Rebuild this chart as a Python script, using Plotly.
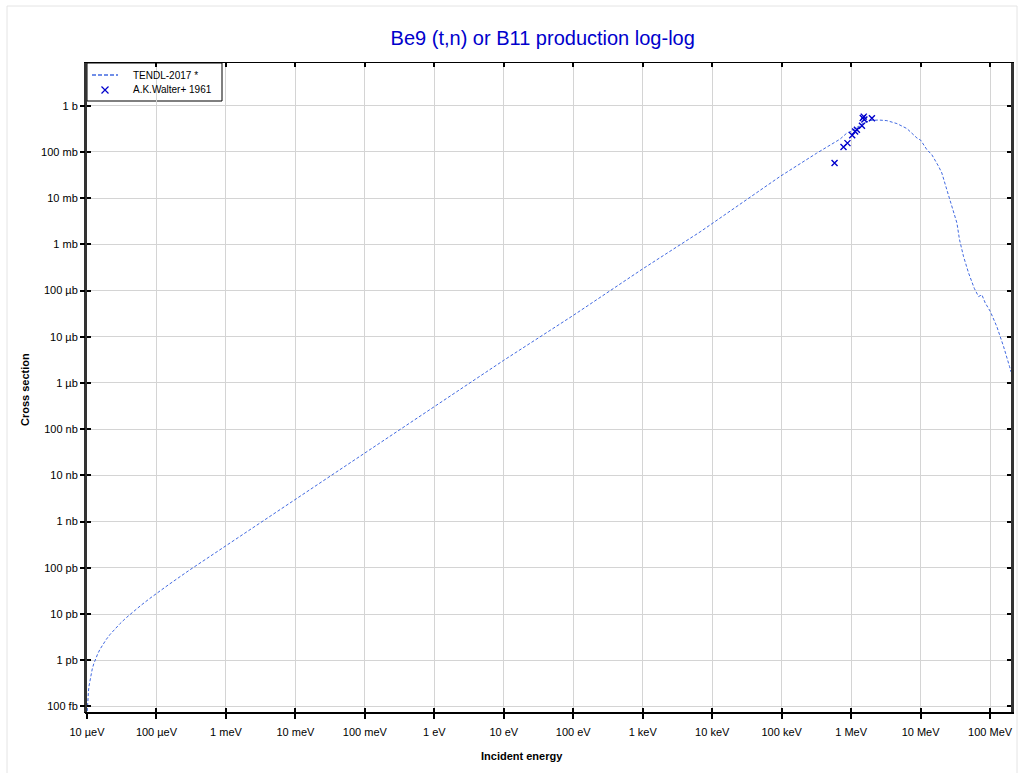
import plotly.graph_objects as go

# TENDL-2017 evaluated curve (incident energy in eV, cross section in barns)
tendl_energy = [1.00e-5, 1.01e-5, 1.02e-5, 1.03e-5, 1.05e-5, 1.07e-5, 1.10e-5, 1.14e-5, 1.19e-5,
                1.25e-5, 1.33e-5, 1.43e-5, 1.55e-5, 1.70e-5, 1.90e-5, 2.15e-5, 2.5e-5, 3.0e-5,
                3.7e-5, 4.6e-5, 6.0e-5, 8.0e-5, 1.0e-4, 1.5e-4, 3.0e-4, 1.0e-3, 1.0e-2, 1.0,
                10.0, 100.0, 1.0e3, 6.7e3, 9.5e4, 3.16e5, 6.95e5, 8.7e5, 1.0e6, 1.5e6, 1.88e6,
                2.5e6, 3.27e6, 4.56e6, 6.35e6, 8.85e6, 1.0e7, 1.23e7, 1.45e7, 1.81e7, 2.02e7,
                2.39e7, 2.82e7, 3.33e7, 3.63e7, 4.14e7, 4.9e7, 5.92e7, 6.82e7, 7.62e7, 8.51e7,
                1.005e8, 1.25e8, 1.56e8, 1.9e8, 2.0e8]
tendl_xs = [6.2e-14, 9.3e-14, 1.24e-13, 1.55e-13, 2.16e-13, 2.78e-13, 3.71e-13, 4.94e-13, 6.49e-13,
            8.34e-13, 1.08e-12, 1.39e-12, 1.76e-12, 2.22e-12, 2.84e-12, 3.62e-12, 4.70e-12, 6.24e-12,
            8.40e-12, 1.12e-11, 1.55e-11, 2.17e-11, 2.79e-11, 4.33e-11, 8.97e-11, 3.0e-10, 3.1e-9, 3.1e-7,
            3.1e-6, 2.9e-5, 2.95e-4, 1.86e-3, 2.95e-2, 9.3e-2, 0.19, 0.257, 0.28, 0.42, 0.48,
            0.49, 0.475, 0.41, 0.32, 0.20, 0.18, 0.112, 0.087, 0.049, 0.035,
            0.015, 6.6e-3, 2.9e-3, 1.26e-3, 5.5e-4, 2.4e-4, 1.12e-4, 7.4e-5, 8.1e-5, 5.4e-5,
            3.55e-5, 1.66e-5, 6.2e-6, 2.3e-6, 1.74e-6]

# A.K.Walter+ 1961 experimental points
walter_energy = [5.77e5, 7.76e5, 8.85e5, 1.035e6, 1.14e6, 1.21e6, 1.43e6, 1.47e6, 1.52e6, 1.55e6, 1.99e6]
walter_xs = [0.0575, 0.128, 0.155, 0.229, 0.278, 0.30, 0.37, 0.54, 0.58, 0.50, 0.537]

series_names = ["TENDL-2017 *", "A.K.Walter+ 1961"]

# Axis ticks
x_tickvals = [1e-5, 1e-4, 1e-3, 1e-2, 1e-1, 1, 10, 100, 1e3, 1e4, 1e5, 1e6, 1e7, 1e8]
x_ticktext = ["10 µeV", "100 µeV", "1 meV", "10 meV", "100 meV", "1 eV", "10 eV", "100 eV",
              "1 keV", "10 keV", "100 keV", "1 MeV", "10 MeV", "100 MeV"]
y_tickvals = [1e-13, 1e-12, 1e-11, 1e-10, 1e-9, 1e-8, 1e-7, 1e-6, 1e-5, 1e-4, 1e-3, 1e-2, 1e-1, 1]
y_ticktext = ["100 fb", "1 pb", "10 pb", "100 pb", "1 nb", "10 nb", "100 nb", "1 µb",
              "10 µb", "100 µb", "1 mb", "10 mb", "100 mb", "1 b"]

x_range = [-5.0, 8.301]
y_range = [-13.12, 0.924]

font_family = "Liberation Sans, Arial, sans-serif"
line_color = "#4169e1"
marker_color = "#0000cc"

# plot area in pixels
PL, PR, PT, PB = 87, 1011, 63, 712
PW, PH = PR - PL, PB - PT


def dx(px):
    return (px - PL) / PW


def dy(py):
    return (PB - py) / PH


fig = go.Figure()
fig.add_trace(go.Scatter(
    x=tendl_energy, y=tendl_xs, mode="lines", name=series_names[0], showlegend=False,
    line=dict(color=line_color, width=1, dash="3px,2px"),
))
fig.add_trace(go.Scatter(
    x=walter_energy, y=walter_xs, mode="markers", name=series_names[1], showlegend=False,
    marker=dict(symbol="x-thin", size=6, color=marker_color, line=dict(color=marker_color, width=1.4)),
))
# invisible trace on the overlay axes so they are drawn
fig.add_trace(go.Scatter(x=[1.0], y=[1.0], xaxis="x2", yaxis="y2", mode="markers",
                         marker=dict(opacity=0), showlegend=False, hoverinfo="skip"))

# legend samples drawn in a pixel-coordinate overlay axis
fig.add_trace(go.Scatter(x=[92, 118], y=[75, 75], xaxis="x3", yaxis="y3", mode="lines",
                         line=dict(color=line_color, width=1.3, dash="4px,2px"),
                         showlegend=False, hoverinfo="skip"))
fig.add_trace(go.Scatter(x=[105], y=[90], xaxis="x3", yaxis="y3", mode="markers",
                         marker=dict(symbol="x-thin", size=7, color=marker_color,
                                     line=dict(color=marker_color, width=1.2)),
                         showlegend=False, hoverinfo="skip"))

axis_common = dict(type="log", showgrid=True, gridcolor="#d4d4d4", gridwidth=1,
                   zeroline=False, showline=True, linecolor="black",
                   tickfont=dict(family=font_family, size=11, color="black"))

fig.update_layout(
    width=1024, height=773, autosize=False,
    paper_bgcolor="white", plot_bgcolor="white",
    margin=dict(l=PL, r=1024 - PR, t=PT, b=773 - PB),
    font=dict(family=font_family, color="black"),
    showlegend=False,
    title=dict(text="Be9 (t,n) or B11 production log-log", x=0.530, xref="container", xanchor="center",
               y=1 - 38 / 773, yref="container", yanchor="middle",
               font=dict(family=font_family, size=20, color=marker_color)),
    xaxis=dict(**axis_common, range=x_range, tickvals=x_tickvals, ticktext=x_ticktext,
               ticks="outside", ticklen=5, tickwidth=1.5, tickcolor="black", linewidth=2,
               ticklabelstandoff=4),
    yaxis=dict(**axis_common, range=y_range, tickvals=y_tickvals, ticktext=y_ticktext,
               ticks="outside", ticklen=5, tickwidth=1.5, tickcolor="black", linewidth=2),
    xaxis2=dict(type="log", range=x_range, overlaying="x", side="top", anchor="y",
                tickvals=x_tickvals, showticklabels=False, showgrid=False, zeroline=False,
                showline=True, linecolor="black", linewidth=1, ticks="inside", ticklen=4,
                tickwidth=1.5, tickcolor="black", mirror="allticks"),
    yaxis2=dict(type="log", range=y_range, overlaying="y", side="right", anchor="x",
                tickvals=y_tickvals, showticklabels=False, showgrid=False, zeroline=False,
                showline=True, linecolor="#333333", linewidth=2.5, ticks="inside", ticklen=4,
                tickwidth=1.5, tickcolor="black", mirror="allticks"),
    xaxis3=dict(range=[PL, PR], overlaying="x", anchor="y3", visible=False, fixedrange=True),
    yaxis3=dict(range=[PB, PT], overlaying="y", anchor="x3", visible=False, fixedrange=True),
)

# manual legend box and labels
fig.add_shape(type="rect", xref="x domain", yref="y domain", x0=dx(PL), x1=dx(222),
              y0=dy(101), y1=dy(PT),
              line=dict(color="black", width=1), fillcolor="white", layer="below")
fig.add_annotation(text=series_names[0], xref="x domain", yref="y domain", x=dx(131), y=dy(75),
                   showarrow=False, xanchor="left", yanchor="middle",
                   font=dict(family=font_family, size=10, color="black"))
fig.add_annotation(text=series_names[1], xref="x domain", yref="y domain", x=dx(131), y=dy(90),
                   showarrow=False, xanchor="left", yanchor="middle",
                   font=dict(family=font_family, size=10, color="black"))

fig.add_annotation(text="<b>Incident energy</b>", xref="paper", yref="paper",
                   x=dx(522), y=dy(756), showarrow=False,
                   xanchor="center", yanchor="middle",
                   font=dict(family=font_family, size=11, color="black"))
fig.add_annotation(text="<b>Cross section</b>", xref="paper", yref="paper",
                   x=dx(25), y=dy(390), showarrow=False, textangle=-90,
                   xanchor="center", yanchor="middle",
                   font=dict(family=font_family, size=11, color="black"))

# light outer frame
fig.add_shape(type="rect", xref="paper", yref="paper",
              x0=dx(7), x1=dx(1017), y0=dy(780), y1=dy(6),
              line=dict(color="#e4e4e4", width=1), layer="below")

fig.write_html("out.html", config={"displayModeBar": False},
               post_script="document.body.style.margin='0';")
